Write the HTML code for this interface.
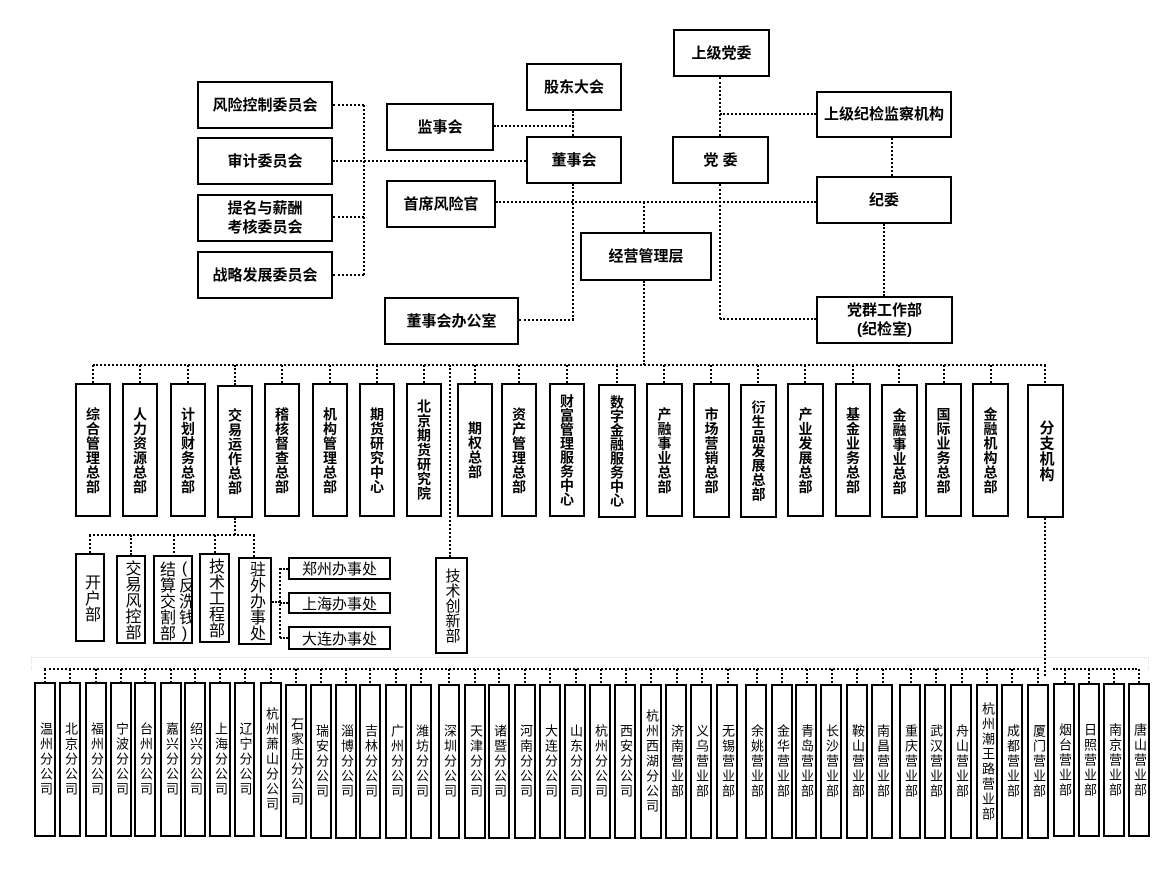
<!DOCTYPE html>
<html><head><meta charset="utf-8"><style>
body{margin:0;width:1176px;height:873px;background:#fff;position:relative;overflow:hidden;font-family:"Liberation Sans","Noto Sans CJK SC","WenQuanYi Zen Hei",sans-serif;color:#000}
.b{position:absolute;border:2.5px solid #000;box-sizing:border-box;display:flex;align-items:center;justify-content:center;text-align:center;background:#fff;overflow:hidden}
.t{font-size:15px;font-weight:bold;line-height:19px}
.d{font-size:14px;font-weight:bold;writing-mode:vertical-rl;text-orientation:upright;letter-spacing:0.5px;line-height:18px}
.s{font-size:16px;writing-mode:vertical-rl;text-orientation:upright;line-height:18px;letter-spacing:0}
.f{font-size:13px;writing-mode:vertical-rl;text-orientation:upright;line-height:14px;letter-spacing:2px}
.o{font-size:15px}
.h{position:absolute;height:0;border-top:2px dotted #000}
.v{position:absolute;width:0;border-left:2px dotted #000}
</style></head><body>
<!-- top boxes -->
<div class="b t" style="left:197px;top:81px;width:136px;height:48px">风险控制委员会</div>
<div class="b t" style="left:197px;top:137px;width:136px;height:48px">审计委员会</div>
<div class="b t" style="left:197px;top:194px;width:136px;height:48px">提名与薪酬<br>考核委员会</div>
<div class="b t" style="left:197px;top:251px;width:136px;height:48px">战略发展委员会</div>
<div class="b t" style="left:386px;top:103px;width:108px;height:48px">监事会</div>
<div class="b t" style="left:526px;top:63px;width:96px;height:48px">股东大会</div>
<div class="b t" style="left:526px;top:136px;width:96px;height:48px">董事会</div>
<div class="b t" style="left:673px;top:29px;width:97px;height:48px">上级党委</div>
<div class="b t" style="left:672px;top:136px;width:97px;height:48px">党 委</div>
<div class="b t" style="left:816px;top:91px;width:136px;height:47px">上级纪检监察机构</div>
<div class="b t" style="left:816px;top:176px;width:136px;height:48px">纪委</div>
<div class="b t" style="left:386px;top:180px;width:110px;height:48px">首席风险官</div>
<div class="b t" style="left:580px;top:232px;width:132px;height:49px">经营管理层</div>
<div class="b t" style="left:384px;top:297px;width:135px;height:48px">董事会办公室</div>
<div class="b t" style="left:816px;top:296px;width:137px;height:48px">党群工作部<br>(纪检室)</div>
<!-- top connectors -->
<div class="v" style="left:363px;top:105px;height:170px"></div>
<div class="h" style="left:333px;top:104px;width:31px"></div>
<div class="h" style="left:333px;top:160px;width:193px"></div>
<div class="h" style="left:333px;top:216px;width:31px"></div>
<div class="h" style="left:333px;top:274px;width:31px"></div>
<div class="h" style="left:494px;top:125px;width:80px"></div>
<div class="v" style="left:572px;top:111px;height:25px"></div>
<div class="v" style="left:572px;top:184px;height:136px"></div>
<div class="h" style="left:519px;top:319px;width:55px"></div>
<div class="v" style="left:719px;top:77px;height:59px"></div>
<div class="h" style="left:720px;top:113px;width:96px"></div>
<div class="v" style="left:719px;top:184px;height:135px"></div>
<div class="h" style="left:720px;top:318px;width:96px"></div>
<div class="v" style="left:891px;top:138px;height:38px"></div>
<div class="v" style="left:883px;top:224px;height:72px"></div>
<div class="h" style="left:496px;top:201px;width:320px"></div>
<div class="v" style="left:643px;top:202px;height:30px"></div>
<div class="v" style="left:643px;top:281px;height:84px"></div>
<!-- dept row -->
<div class="h" style="left:93px;top:364px;width:953px"></div>
<div class="v" style="left:92px;top:365px;height:18px"></div>
<div class="v" style="left:139px;top:365px;height:18px"></div>
<div class="v" style="left:187px;top:365px;height:18px"></div>
<div class="v" style="left:234px;top:365px;height:20px"></div>
<div class="v" style="left:281px;top:365px;height:18px"></div>
<div class="v" style="left:329px;top:365px;height:18px"></div>
<div class="v" style="left:376px;top:365px;height:18px"></div>
<div class="v" style="left:423px;top:365px;height:18px"></div>
<div class="v" style="left:449px;top:365px;height:192px"></div>
<div class="v" style="left:474px;top:365px;height:18px"></div>
<div class="v" style="left:518px;top:365px;height:18px"></div>
<div class="v" style="left:566px;top:365px;height:18px"></div>
<div class="v" style="left:616px;top:365px;height:18px"></div>
<div class="v" style="left:663px;top:365px;height:18px"></div>
<div class="v" style="left:710px;top:365px;height:18px"></div>
<div class="v" style="left:757px;top:365px;height:18px"></div>
<div class="v" style="left:804px;top:365px;height:18px"></div>
<div class="v" style="left:852px;top:365px;height:18px"></div>
<div class="v" style="left:898px;top:365px;height:18px"></div>
<div class="v" style="left:943px;top:365px;height:18px"></div>
<div class="v" style="left:990px;top:365px;height:18px"></div>
<div class="v" style="left:1044px;top:365px;height:18px"></div>
<div class="b d" style="left:75px;top:383px;width:36px;height:134px">综合管理总部</div>
<div class="b d" style="left:122px;top:383px;width:36px;height:134px">人力资源总部</div>
<div class="b d" style="left:170px;top:383px;width:36px;height:134px">计划财务总部</div>
<div class="b d" style="left:217px;top:385px;width:36px;height:133px">交易运作总部</div>
<div class="b d" style="left:264px;top:383px;width:36px;height:134px">稽核督查总部</div>
<div class="b d" style="left:312px;top:383px;width:36px;height:134px">机构管理总部</div>
<div class="b d" style="left:359px;top:383px;width:36px;height:134px">期货研究中心</div>
<div class="b d" style="left:406px;top:383px;width:36px;height:134px">北京期货研究院</div>
<div class="b d" style="left:457px;top:383px;width:36px;height:134px">期权总部</div>
<div class="b d" style="left:501px;top:383px;width:36px;height:134px">资产管理总部</div>
<div class="b d" style="left:549px;top:383px;width:36px;height:134px;letter-spacing:0">财富管理服务中心</div>
<div class="b d" style="left:598px;top:384px;width:38px;height:134px;letter-spacing:0">数字金融服务中心</div>
<div class="b d" style="left:646px;top:383px;width:37px;height:134px">产融事业总部</div>
<div class="b d" style="left:693px;top:383px;width:37px;height:135px">市场营销总部</div>
<div class="b d" style="left:740px;top:384px;width:37px;height:134px">衍生品发展总部</div>
<div class="b d" style="left:787px;top:383px;width:37px;height:134px">产业发展总部</div>
<div class="b d" style="left:835px;top:383px;width:36px;height:134px">基金业务总部</div>
<div class="b d" style="left:881px;top:384px;width:37px;height:134px">金融事业总部</div>
<div class="b d" style="left:925px;top:383px;width:37px;height:134px">国际业务总部</div>
<div class="b d" style="left:972px;top:383px;width:37px;height:134px">金融机构总部</div>
<div class="b d" style="left:1027px;top:384px;width:37px;height:134px;font-size:15px">分支机构</div>
<div class="b s" style="left:435px;top:557px;width:33px;height:97px;font-size:15px">技术创新部</div>
<!-- sub depts -->
<div class="v" style="left:234px;top:518px;height:17px"></div>
<div class="h" style="left:89px;top:534px;width:166px"></div>
<div class="v" style="left:89px;top:535px;height:18px"></div>
<div class="v" style="left:130px;top:535px;height:20px"></div>
<div class="v" style="left:173px;top:535px;height:18px"></div>
<div class="v" style="left:214px;top:535px;height:18px"></div>
<div class="v" style="left:253px;top:535px;height:22px"></div>
<div class="b s" style="left:75px;top:553px;width:30px;height:89px">开户部</div>
<div class="b s" style="left:116px;top:555px;width:30px;height:89px;line-height:17px">交易风控部</div>
<div class="b s" style="left:153px;top:555px;width:40px;height:89px;writing-mode:vertical-lr;justify-content:flex-start;align-items:flex-start;line-height:19px;padding-top:2px;padding-left:1px">结算交割部(反洗钱)</div>
<div class="b s" style="left:199px;top:553px;width:31px;height:90px;line-height:17px">技术工程部</div>
<div class="b s" style="left:238px;top:557px;width:34px;height:88px">驻外办事处</div>
<div class="h" style="left:272px;top:601px;width:8px"></div>
<div class="v" style="left:279px;top:568px;height:70px"></div>
<div class="h" style="left:280px;top:568px;width:8px"></div>
<div class="h" style="left:280px;top:602px;width:8px"></div>
<div class="h" style="left:280px;top:637px;width:8px"></div>
<div class="b o" style="left:288px;top:557px;width:103px;height:23px">郑州办事处</div>
<div class="b o" style="left:288px;top:592px;width:103px;height:22px">上海办事处</div>
<div class="b o" style="left:288px;top:626px;width:103px;height:24px">大连办事处</div>
<!-- bottom -->
<div style="position:absolute;left:31px;top:657px;width:1116px;height:12px;border:1px dotted #ddd;border-bottom:none"></div>
<div class="v" style="left:1044px;top:518px;height:158px"></div>
<div class="h" style="left:44px;top:668px;width:995px"></div>
<div class="h" style="left:1053px;top:668px;width:84px"></div>
<div style="position:absolute;left:0;top:669px;width:1176px;height:14px">
<div class="v" style="left:44px;top:0;height:14px"></div><div class="v" style="left:69px;top:0;height:14px"></div><div class="v" style="left:95px;top:0;height:14px"></div><div class="v" style="left:120px;top:0;height:14px"></div><div class="v" style="left:144px;top:0;height:14px"></div><div class="v" style="left:170px;top:0;height:14px"></div><div class="v" style="left:194px;top:0;height:14px"></div><div class="v" style="left:219px;top:0;height:14px"></div><div class="v" style="left:244px;top:0;height:14px"></div><div class="v" style="left:270px;top:0;height:14px"></div><div class="v" style="left:295px;top:0;height:14px"></div><div class="v" style="left:320px;top:0;height:14px"></div><div class="v" style="left:345px;top:0;height:14px"></div><div class="v" style="left:369px;top:0;height:14px"></div><div class="v" style="left:395px;top:0;height:14px"></div><div class="v" style="left:420px;top:0;height:14px"></div><div class="v" style="left:448px;top:0;height:14px"></div><div class="v" style="left:474px;top:0;height:14px"></div><div class="v" style="left:498px;top:0;height:14px"></div><div class="v" style="left:524px;top:0;height:14px"></div><div class="v" style="left:549px;top:0;height:14px"></div><div class="v" style="left:575px;top:0;height:14px"></div><div class="v" style="left:600px;top:0;height:14px"></div><div class="v" style="left:625px;top:0;height:14px"></div><div class="v" style="left:650px;top:0;height:14px"></div><div class="v" style="left:676px;top:0;height:14px"></div><div class="v" style="left:701px;top:0;height:14px"></div><div class="v" style="left:727px;top:0;height:14px"></div><div class="v" style="left:756px;top:0;height:14px"></div><div class="v" style="left:781px;top:0;height:14px"></div><div class="v" style="left:806px;top:0;height:14px"></div><div class="v" style="left:831px;top:0;height:14px"></div><div class="v" style="left:856px;top:0;height:14px"></div><div class="v" style="left:882px;top:0;height:14px"></div><div class="v" style="left:910px;top:0;height:14px"></div><div class="v" style="left:935px;top:0;height:14px"></div><div class="v" style="left:961px;top:0;height:14px"></div><div class="v" style="left:986px;top:0;height:14px"></div><div class="v" style="left:1011px;top:0;height:14px"></div><div class="v" style="left:1037px;top:0;height:14px"></div><div class="v" style="left:1064px;top:0;height:14px"></div><div class="v" style="left:1088px;top:0;height:14px"></div><div class="v" style="left:1113px;top:0;height:14px"></div><div class="v" style="left:1138px;top:0;height:14px"></div>
</div>
<div class="b f" style="left:34px;top:682px;width:22px;height:155px">温州分公司</div>
<div class="b f" style="left:59px;top:682px;width:22px;height:155px">北京分公司</div>
<div class="b f" style="left:85px;top:682px;width:22px;height:155px">福州分公司</div>
<div class="b f" style="left:110px;top:682px;width:22px;height:155px">宁波分公司</div>
<div class="b f" style="left:134px;top:682px;width:22px;height:155px">台州分公司</div>
<div class="b f" style="left:160px;top:682px;width:22px;height:155px">嘉兴分公司</div>
<div class="b f" style="left:184px;top:682px;width:22px;height:155px">绍兴分公司</div>
<div class="b f" style="left:209px;top:682px;width:22px;height:155px">上海分公司</div>
<div class="b f" style="left:234px;top:682px;width:21px;height:155px">辽宁分公司</div>
<div class="b f" style="left:260px;top:682px;width:22px;height:155px">杭州萧山分公司</div>
<div class="b f" style="left:285px;top:684px;width:22px;height:155px">石家庄分公司</div>
<div class="b f" style="left:310px;top:684px;width:22px;height:155px">瑞安分公司</div>
<div class="b f" style="left:335px;top:684px;width:22px;height:155px">淄博分公司</div>
<div class="b f" style="left:359px;top:684px;width:22px;height:155px">吉林分公司</div>
<div class="b f" style="left:385px;top:684px;width:22px;height:155px">广州分公司</div>
<div class="b f" style="left:410px;top:684px;width:22px;height:155px">潍坊分公司</div>
<div class="b f" style="left:438px;top:684px;width:22px;height:155px">深圳分公司</div>
<div class="b f" style="left:464px;top:684px;width:22px;height:155px">天津分公司</div>
<div class="b f" style="left:488px;top:684px;width:22px;height:155px">诸暨分公司</div>
<div class="b f" style="left:514px;top:684px;width:22px;height:155px">河南分公司</div>
<div class="b f" style="left:539px;top:684px;width:22px;height:155px">大连分公司</div>
<div class="b f" style="left:564px;top:684px;width:22px;height:155px">山东分公司</div>
<div class="b f" style="left:589px;top:684px;width:22px;height:155px">杭州分公司</div>
<div class="b f" style="left:614px;top:684px;width:22px;height:155px">西安分公司</div>
<div class="b f" style="left:640px;top:684px;width:22px;height:155px">杭州西湖分公司</div>
<div class="b f" style="left:665px;top:684px;width:22px;height:155px">济南营业部</div>
<div class="b f" style="left:690px;top:684px;width:22px;height:155px">义乌营业部</div>
<div class="b f" style="left:716px;top:684px;width:22px;height:155px">无锡营业部</div>
<div class="b f" style="left:745px;top:684px;width:22px;height:155px">余姚营业部</div>
<div class="b f" style="left:771px;top:684px;width:22px;height:155px">金华营业部</div>
<div class="b f" style="left:795px;top:684px;width:22px;height:155px">青岛营业部</div>
<div class="b f" style="left:820px;top:684px;width:22px;height:155px">长沙营业部</div>
<div class="b f" style="left:846px;top:684px;width:22px;height:155px">鞍山营业部</div>
<div class="b f" style="left:871px;top:684px;width:22px;height:155px">南昌营业部</div>
<div class="b f" style="left:899px;top:684px;width:22px;height:155px">重庆营业部</div>
<div class="b f" style="left:924px;top:684px;width:22px;height:155px">武汉营业部</div>
<div class="b f" style="left:950px;top:684px;width:22px;height:155px">舟山营业部</div>
<div class="b f" style="left:976px;top:684px;width:22px;height:155px">杭州潮王路营业部</div>
<div class="b f" style="left:1001px;top:684px;width:22px;height:155px">成都营业部</div>
<div class="b f" style="left:1027px;top:684px;width:22px;height:155px">厦门营业部</div>
<div class="b f" style="left:1053px;top:683px;width:22px;height:154px">烟台营业部</div>
<div class="b f" style="left:1078px;top:683px;width:22px;height:154px">日照营业部</div>
<div class="b f" style="left:1103px;top:683px;width:22px;height:154px">南京营业部</div>
<div class="b f" style="left:1128px;top:683px;width:22px;height:154px">唐山营业部</div>
</body></html>
